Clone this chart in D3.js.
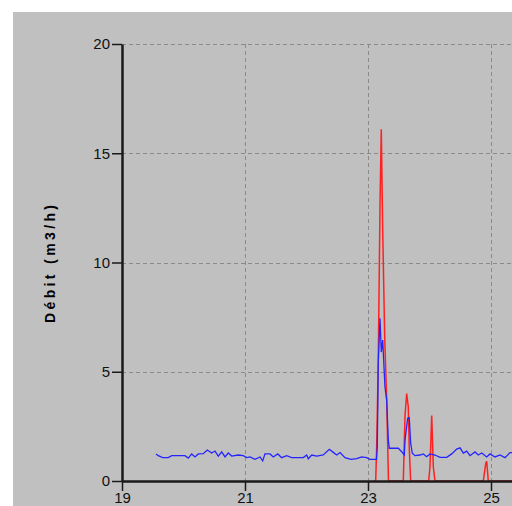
<!DOCTYPE html>
<html>
<head>
<meta charset="utf-8">
<script src="https://cdn.jsdelivr.net/npm/d3@7"></script>
<style>
  body { margin: 0; background: #fff; }
  svg { display: block; }
  .tick text { font-family: "Liberation Sans", Arial, sans-serif; font-size: 15px; fill: #111; }
</style>
</head>
<body>
<div id="chart"></div>
<script>
var svgWidth = 512;
var svgHeight = 506;

// plot box (where the axes sit)
var plot = { left: 122, top: 44, right: 512, bottom: 481 };

// tick values
var xTicks = [19, 21, 23, 25];
var yTicks = [0, 5, 10, 15, 20];

// blue series (time in days, debit m3/h)
var blueT = [19.553, 19.59, 19.662, 19.753, 19.808, 20.024, 20.078, 20.133, 20.187, 20.241,
  20.322, 20.387, 20.459, 20.512, 20.566, 20.621, 20.675, 20.728, 20.784, 20.891,
  20.972, 21.028, 21.081, 21.163, 21.244, 21.288, 21.325, 21.407, 21.46, 21.532,
  21.597, 21.678, 21.759, 21.948, 22.003, 22.029, 22.085, 22.166, 22.273, 22.371,
  22.436, 22.491, 22.545, 22.626, 22.724, 22.816, 22.898, 22.979, 23.033, 23.138,
  23.151, 23.167, 23.195, 23.216, 23.239, 23.276, 23.304, 23.33, 23.346, 23.493,
  23.548, 23.59, 23.602, 23.645, 23.671, 23.694, 23.72, 23.764, 23.846, 23.899,
  23.954, 24.008, 24.089, 24.171, 24.28, 24.361, 24.442, 24.496, 24.55, 24.605,
  24.659, 24.74, 24.793, 24.849, 24.93, 24.984, 25.065, 25.146, 25.228, 25.309, 25.374];
var blueV = [1.24, 1.16, 1.07, 1.07, 1.16, 1.16, 1.05, 1.24, 1.10, 1.24,
  1.25, 1.42, 1.28, 1.37, 1.14, 1.33, 1.10, 1.28, 1.14, 1.19,
  1.16, 1.07, 1.10, 0.99, 1.10, 0.92, 1.24, 1.24, 1.10, 1.24,
  1.07, 1.16, 1.07, 1.07, 1.19, 1.02, 1.19, 1.14, 1.19, 1.45,
  1.31, 1.19, 1.30, 1.07, 0.99, 1.02, 1.10, 1.07, 0.99, 0.99,
  1.57, 5.46, 7.45, 5.9, 6.45, 4.3, 3.7, 1.88, 1.5, 1.5,
  1.34, 1.19, 1.88, 2.87, 2.9, 1.73, 1.27, 1.16, 1.19, 1.24,
  1.11, 1.24, 1.19, 1.08, 1.08, 1.24, 1.46, 1.52, 1.28, 1.37,
  1.16, 1.33, 1.19, 1.28, 1.10, 1.24, 1.10, 1.19, 1.07, 1.30, 1.30];

// red series
var redT = [23.1, 23.125, 23.141, 23.167, 23.195, 23.216, 23.239, 23.272, 23.304, 23.333,
  23.574, 23.602, 23.629, 23.655, 23.671, 23.694,
  23.987, 24.008, 24.036, 24.062, 24.089,
  24.875, 24.914, 24.93, 24.956, 25.374];
var redV = [0, 0, 1.57, 5.46, 12.55, 16.1, 11.5, 6.5, 3.7, 0,
  0, 3.0, 4.0, 3.4, 1.5, 0,
  0, 0.65, 3.0, 0.65, 0,
  0, 0.8, 0.9, 0, 0];

var svg = d3.select("#chart")
  .append("svg")
  .attr("width", svgWidth)
  .attr("height", svgHeight);

// gray panel
svg.append("rect")
  .attr("x", 13)
  .attr("y", 12)
  .attr("width", svgWidth - 13)
  .attr("height", svgHeight - 12)
  .attr("fill", "#c0c0c0");

var x = d3.scaleLinear().domain([19, 25]).range([plot.left, 491]);
var y = d3.scaleLinear().domain([0, 20]).range([plot.bottom, plot.top]);

// dashed grid
svg.append("g").selectAll("line")
  .data(yTicks.filter(d => d > 0))
  .enter()
  .append("line")
  .attr("x1", plot.left)
  .attr("x2", plot.right)
  .attr("y1", d => Math.round(y(d)) + 0.5)
  .attr("y2", d => Math.round(y(d)) + 0.5)
  .attr("stroke", "#8a8a8a")
  .attr("stroke-dasharray", "4,3");

svg.append("g").selectAll("line")
  .data(xTicks.filter(d => d > 19))
  .enter()
  .append("line")
  .attr("x1", d => Math.round(x(d)) + 0.5)
  .attr("x2", d => Math.round(x(d)) + 0.5)
  .attr("y1", plot.top)
  .attr("y2", plot.bottom)
  .attr("stroke", "#8a8a8a")
  .attr("stroke-dasharray", "4,3");

// clip the series to the plot box
svg.append("clipPath")
  .attr("id", "clip")
  .append("rect")
  .attr("x", plot.left)
  .attr("y", plot.top)
  .attr("width", plot.right - plot.left)
  .attr("height", plot.bottom - plot.top);

var line = d3.line()
  .x(d => x(d[0]))
  .y(d => y(d[1]));

var redData = redT.map((t, i) => [t, redV[i]]);
var blueData = blueT.map((t, i) => [t, blueV[i]]);

svg.append("path")
  .datum(redData)
  .attr("clip-path", "url(#clip)")
  .attr("fill", "none")
  .attr("stroke", "#ff2020")
  .attr("stroke-width", 1.5)
  .attr("d", line);

svg.append("path")
  .datum(blueData)
  .attr("clip-path", "url(#clip)")
  .attr("fill", "none")
  .attr("stroke", "#2424ff")
  .attr("stroke-width", 1.3)
  .attr("d", line);

// axes
var xAxis = svg.append("g")
  .attr("transform", `translate(0, ${plot.bottom})`)
  .call(d3.axisBottom(x).tickValues(xTicks).tickFormat(d3.format("d"))
    .tickSize(10).tickPadding(1).tickSizeOuter(0));

xAxis.select(".domain").attr("d", `M${plot.left},0.5H${plot.right}`);

var yAxis = svg.append("g")
  .attr("transform", `translate(${plot.left}, 0)`)
  .call(d3.axisLeft(y).tickValues(yTicks).tickSize(10).tickPadding(2).tickSizeOuter(0));

svg.selectAll(".domain").attr("stroke", "#1a1a1a").attr("stroke-width", 2.5);
svg.selectAll(".tick line").attr("stroke", "#1a1a1a").attr("stroke-width", 1.5);

// y axis title
svg.append("text")
  .attr("transform", "translate(55, 264) rotate(-90)")
  .attr("text-anchor", "middle")
  .attr("font-family", "'Liberation Sans', Arial, sans-serif")
  .attr("font-size", "14px")
  .attr("font-weight", "bold")
  .attr("fill", "#000")
  .attr("textLength", 118)
  .attr("lengthAdjust", "spacing")
  .text("Débit  (m3/h)");
</script>
</body>
</html>
